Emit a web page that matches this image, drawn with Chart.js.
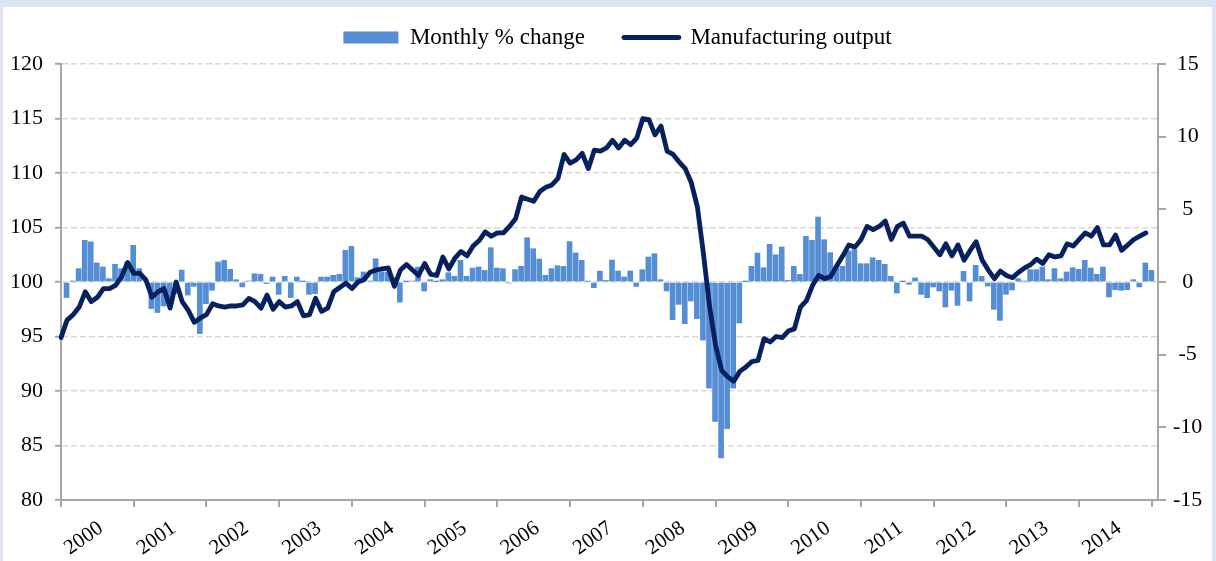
<!DOCTYPE html>
<html>
<head>
<meta charset="utf-8">
<title>Manufacturing output</title>
<script src="https://cdn.jsdelivr.net/npm/chart.js@4.4.1/dist/chart.umd.min.js"></script>
<style>
  html, body { margin: 0; padding: 0; background: #fff; }
  #frame {
    position: absolute; left: 0; top: 0;
    width: 1216px; height: 561px; box-sizing: border-box;
    border-top: 7px solid #dbe4f0;
    border-left: 3px solid #dbe4f0;
    border-right: 4px solid #dbe4f0;
  }
  #chart { display: block; }
</style>
</head>
<body>
<div id="frame"><canvas id="chart" width="1209" height="554"></canvas></div>
<script>
// year tick labels (one every 12 months)
const years = ['2000', '2001', '2002', '2003', '2004', '2005', '2006', '2007',
  '2008', '2009', '2010', '2011', '2012', '2013', '2014'];

// monthly % change, Jan 2000 - Dec 2014 (right axis)
const monthlyChange = [
  -1.07, 0.05, 0.92, 2.87, 2.76, 1.31, 1.03, 0.23, 1.22, 0.92, 1.36, 2.52,
  0.92, 0.07, -1.83, -2.10, -1.65, -1.26, -0.80, 0.82, -0.90, -0.30, -3.55, -1.49,
  -0.57, 1.38, 1.49, 0.87, 0.16, -0.34, 0.07, 0.57, 0.53, -0.11, 0.34, -0.85,
  0.39, -1.07, 0.34, 0.02, -0.85, -0.80, 0.34, 0.34, 0.46, 0.53, 2.18, 2.45,
  0.30, 0.69, 0.07, 1.60, 0.69, 0.69, 0.30, -1.38, 0.02, 0.07, 1.03, -0.62,
  0.16, 0.02, 0.16, 0.64, 0.39, 1.49, 0.39, 0.96, 1.03, 0.80, 2.36, 0.96,
  0.92, -0.07, 0.85, 1.08, 3.05, 2.29, 1.58, 0.46, 0.92, 1.12, 1.08, 2.78,
  2.00, 1.49, 0.05, -0.39, 0.75, 0.11, 1.51, 0.76, 0.34, 0.76, -0.30, 0.85,
  1.72, 1.95, 0.16, -0.62, -2.59, -1.54, -2.87, -1.31, -2.52, -4.0, -7.3, -9.6,
  -12.1, -10.1, -7.3, -2.82, 0.02, 1.08, 1.99, 0.98, 2.59, 1.88, 2.41, 0.11,
  1.08, 0.53, 3.14, 2.87, 4.47, 2.91, 2.02, 1.08, 1.08, 2.13, 2.22, 1.26,
  1.26, 1.67, 1.49, 1.22, 0.39, -0.76, 0.02, -0.16, 0.28, -0.85, -1.08, -0.34,
  -0.62, -1.72, -0.57, -1.61, 0.73, -1.31, 1.15, 0.39, -0.28, -1.88, -2.64, -0.85,
  -0.55, 0.23, 0.05, 0.85, 0.85, 1.03, 0.16, 0.92, 0.23, 0.69, 0.98, 0.87,
  1.49, 0.96, 0.53, 1.03, -1.03, -0.53, -0.57, -0.53, 0.16, -0.34, 1.31, 0.80
];

// manufacturing output index (left axis)
const manufacturingOutput = [
  94.9, 96.5, 97.0, 97.7, 99.1, 98.2, 98.6, 99.4, 99.4, 99.7, 100.5, 101.8,
  100.8, 100.8, 100.2, 98.6, 99.1, 99.4, 97.6, 100.0, 98.2, 97.4, 96.3, 96.7,
  97.0, 98.0, 97.8, 97.7, 97.8, 97.8, 97.9, 98.5, 98.2, 97.6, 98.8, 97.5,
  98.2, 97.7, 97.8, 98.2, 96.9, 97.0, 98.5, 97.3, 97.6, 99.1, 99.5, 99.9,
  99.4, 100.0, 100.2, 100.9, 101.1, 101.2, 101.3, 99.6, 101.1, 101.6, 101.1, 100.6,
  101.7, 100.7, 100.6, 102.3, 101.2, 102.2, 102.8, 102.4, 103.3, 103.8, 104.6, 104.2,
  104.5, 104.5, 105.1, 105.8, 107.8, 107.6, 107.4, 108.3, 108.7, 108.9, 109.5, 111.7,
  110.9, 111.2, 111.8, 110.4, 112.1, 112.0, 112.3, 113.0, 112.3, 113.0, 112.6, 113.2,
  115.0, 114.9, 113.5, 114.3, 112.0, 111.7, 111.0, 110.4, 109.1, 106.9, 102.6, 97.8,
  94.2, 91.9, 91.3, 90.9, 91.8, 92.2, 92.7, 92.8, 94.8, 94.5, 95.0, 94.9,
  95.5, 95.7, 97.7, 98.3, 99.7, 100.6, 100.3, 100.5, 101.5, 102.4, 103.4, 103.2,
  103.9, 105.1, 104.8, 105.1, 105.6, 103.9, 105.1, 105.4, 104.2, 104.2, 104.2, 103.9,
  103.2, 102.5, 103.5, 102.4, 103.4, 102.0, 102.9, 103.7, 102.0, 101.1, 100.3, 101.0,
  100.6, 100.4, 100.9, 101.3, 101.6, 102.1, 101.7, 102.5, 102.3, 102.4, 103.5, 103.3,
  103.9, 104.5, 104.2, 105.0, 103.4, 103.4, 104.3, 102.9, 103.4, 103.9, 104.2, 104.5
];

const FONT = "'Liberation Serif', 'Times New Roman', serif";
const AXIS_GREY = '#a6a6a6';
const BAR_BLUE = '#558ed5';
const LINE_NAVY = '#07205e';

// month labels; the line axis runs past the data so the
// last year tick sits at the end of 2014
const monthLabels = [];
for (let y = 2000; y <= 2015; y++) {
  for (let m = 1; m <= 12; m++) monthLabels.push(y + '-' + m);
}
const lineLabels = monthLabels.slice(0, monthlyChange.length + 2);
const barLabels = monthLabels.slice(0, monthlyChange.length + 1);

// fixed legend block height, and nudge it a little to the right
const legendPlace = {
  id: 'legendPlace',
  beforeLayout(chart) {
    const lg = chart.legend;
    if (lg && !lg.heightPatched) {
      const fit = lg.fit;
      lg.fit = function () { fit.call(this); this.height = 77; };
      lg.heightPatched = true;
    }
  },
  afterLayout(chart) {
    const lg = chart.legend;
    if (lg) { lg.left += 10; lg.right += 10; }
  }
};

new Chart(document.getElementById('chart'), {
  type: 'line',
  data: {
    datasets: [
      {
        type: 'line',
        label: 'Manufacturing output',
        data: manufacturingOutput,
        xAxisID: 'x',
        yAxisID: 'y',
        borderColor: LINE_NAVY,
        borderWidth: 4.8,
        borderJoinStyle: 'round',
        borderCapStyle: 'round',
        pointRadius: 0,
        tension: 0,
        order: 0
      },
      {
        type: 'bar',
        label: 'Monthly % change',
        data: monthlyChange,
        xAxisID: 'xBar',
        yAxisID: 'y2',
        backgroundColor: BAR_BLUE,
        barThickness: 5,
        order: 1
      }
    ]
  },
  options: {
    responsive: false,
    animation: false,
    layout: { padding: { top: -20, left: 0, right: 0, bottom: 0 } },
    plugins: {
      tooltip: { enabled: false },
      legend: {
        position: 'top',
        labels: {
          usePointStyle: true,
          pointStyleWidth: 55,
          boxHeight: 12,
          padding: 39,
          color: '#000',
          font: { family: FONT, size: 23 },
          generateLabels: () => [
            { text: 'Monthly % change', fillStyle: BAR_BLUE, strokeStyle: BAR_BLUE,
              lineWidth: 0, pointStyle: 'rect', fontColor: '#000', datasetIndex: 1, hidden: false },
            { text: 'Manufacturing output', fillStyle: LINE_NAVY, strokeStyle: LINE_NAVY,
              lineWidth: 4.8, lineCap: 'round', pointStyle: 'line', fontColor: '#000', datasetIndex: 0, hidden: false }
          ]
        }
      }
    },
    scales: {
      x: {
        type: 'category',
        labels: lineLabels,
        position: 'bottom',
        offset: false,
        grid: { offset: false, drawOnChartArea: false, color: AXIS_GREY, lineWidth: 2, tickLength: 7 },
        border: { color: AXIS_GREY, width: 2 },
        ticks: {
          autoSkip: false,
          minRotation: 35,
          maxRotation: 35,
          labelOffset: 40,
          padding: 9,
          color: '#000',
          font: { family: FONT, size: 21 },
          callback: function (value, index) {
            if (index % 12 !== 0) return null;
            const yr = years[index / 12];
            return yr === undefined ? '' : yr;
          }
        },
        afterFit: s => { s.height = 61; }
      },
      xBar: {
        type: 'category',
        labels: barLabels,
        offset: true,
        display: false
      },
      y: {
        position: 'left',
        min: 80,
        max: 120,
        ticks: { stepSize: 5, padding: 12, color: '#000', font: { family: FONT, size: 22 } },
        grid: { color: '#d9d9d9', lineWidth: 1.5, tickColor: AXIS_GREY, tickWidth: 2, tickLength: 6 },
        border: { color: AXIS_GREY, width: 2, dash: [6, 3] },
        afterFit: s => { s.width = 58; }
      },
      y2: {
        position: 'right',
        min: -15,
        max: 15,
        ticks: { stepSize: 5, padding: 7, crossAlign: 'center', color: '#000', font: { family: FONT, size: 22 } },
        grid: { drawOnChartArea: false, color: AXIS_GREY, lineWidth: 2, tickLength: 8 },
        border: { color: AXIS_GREY, width: 2 },
        afterFit: s => { s.width = 54; }
      }
    }
  },
  plugins: [legendPlace]
});
</script>
</body>
</html>
